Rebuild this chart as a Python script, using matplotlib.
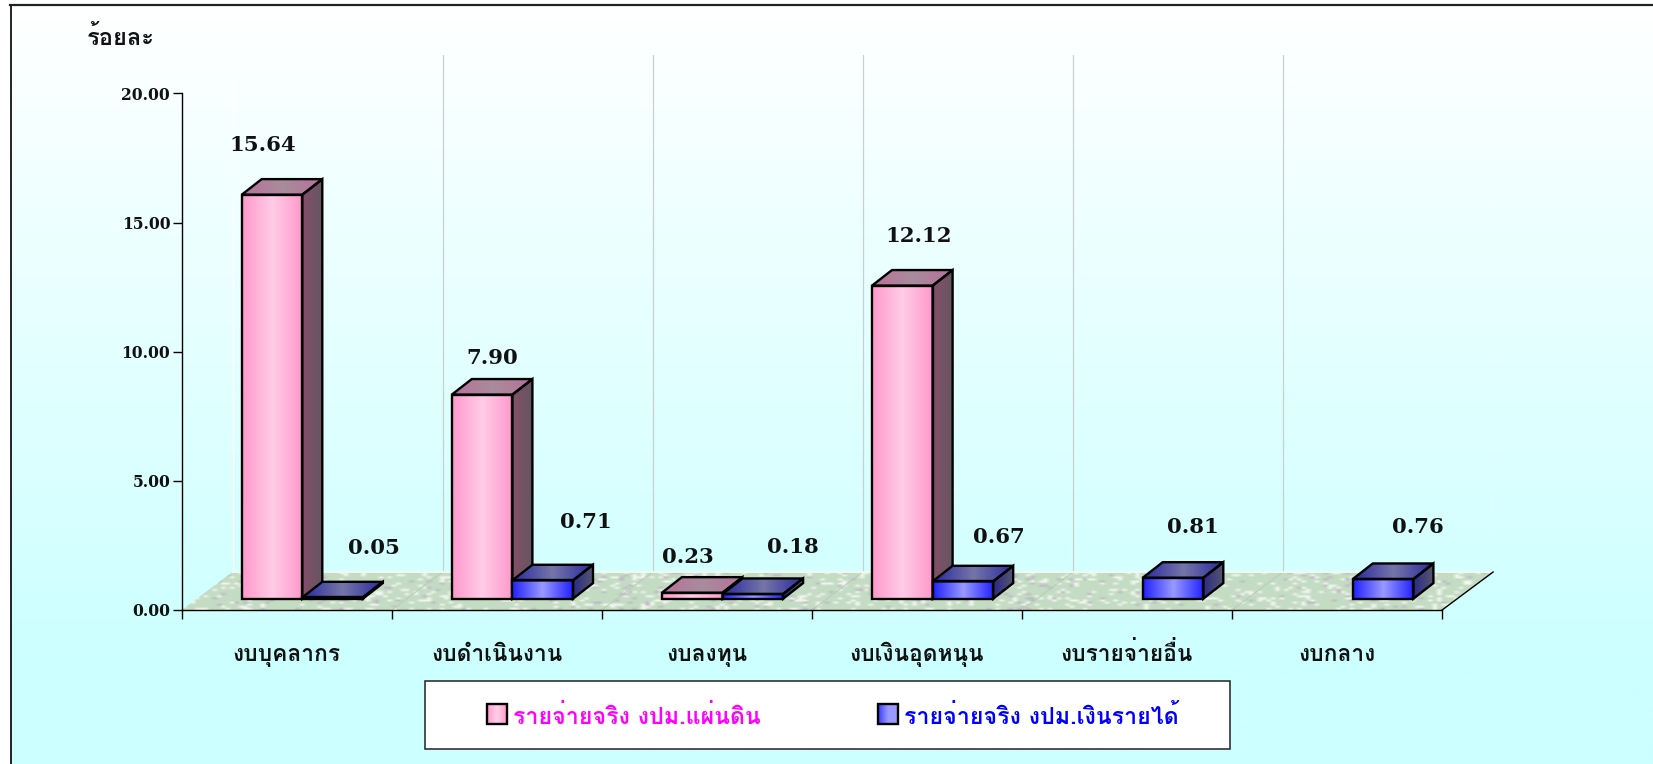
import numpy as np
import matplotlib
matplotlib.use('Agg')
import matplotlib.pyplot as plt
from matplotlib.colors import to_rgb
from matplotlib.patches import Polygon, Rectangle

THAI = ['Loma', 'IBM Plex Sans Thai Looped', 'DejaVu Sans']
NUM = ['DejaVu Serif']

categories = ['งบบุคลากร', 'งบดำเนินงาน', 'งบลงทุน', 'งบเงินอุดหนุน', 'งบรายจ่ายอื่น', 'งบกลาง']
state_budget = [15.64, 7.90, 0.23, 12.12, None, None]
income_budget = [0.05, 0.71, 0.18, 0.67, 0.81, 0.76]
y_ticks = [0, 5, 10, 15, 20]
y_labels = ['0.00', '5.00', '10.00', '15.00', '20.00']
y_title = 'ร้อยละ'
legend_state = 'รายจ่ายจริง งปม.แผ่นดิน'
legend_income = 'รายจ่ายจริง งปม.เงินรายได้'

# hand placed value labels in the original, offset from top of bar in px
state_offsets = [(-9, 50), (10, 37), (-4, 36), (16, 50), None, None]
income_offsets = [(41, 49), (43, 58), (40, 47), (36, 44), (20, 51), (35, 52)]

W, H = 1653, 764
CAT_PX = 210.1
UNIT_PX = 25.83
FLOOR_DX, FLOOR_DY = 51 / CAT_PX, 38 / UNIT_PX
BAR_DX, BAR_DY = 20 / CAT_PX, 15.6 / UNIT_PX
BAR_W = 60.6 / CAT_PX
BAR_START = 60.2 / CAT_PX
BAR_LIFT = 11.3 / UNIT_PX

PINK_FRONT = ['#ff99cc', '#ffcce6', '#ff99cc']
PINK_TOP = ['#b8709a', '#a98c9c', '#b8709a']
PINK_SIDE = ['#85506a', '#665560']
BLUE_FRONT = ['#2222ff', '#9999ff', '#2222ff']
BLUE_TOP = ['#2a2aa0', '#7575a8', '#2a2aa0']
BLUE_SIDE = ['#2a2a88', '#555570']


def ramp(cols, n=64):
    c = np.array([to_rgb(x) for x in cols])
    t = np.linspace(0, len(cols) - 1, n)
    return np.stack([np.interp(t, np.arange(len(cols)), c[:, k]) for k in range(3)], axis=1)


def grad_poly(ax, pts, cols, z, lw=1.7):
    xs = [p[0] for p in pts]
    ys = [p[1] for p in pts]
    poly = Polygon(pts, closed=True, fc='none', ec='black', lw=lw, zorder=z + 0.1, joinstyle='miter')
    ax.add_patch(poly)
    im = ax.imshow(ramp(cols)[None, :, :], extent=(min(xs), max(xs), min(ys), max(ys)),
                   aspect='auto', zorder=z, interpolation='bilinear', origin='lower')
    im.set_clip_path(poly)


def bar3d(ax, x, v, front, top, side, z):
    y0 = BAR_LIFT
    y1 = BAR_LIFT + v
    x1 = x + BAR_W
    grad_poly(ax, [(x, y0), (x1, y0), (x1, y1), (x, y1)], front, z)
    grad_poly(ax, [(x1, y0), (x1 + BAR_DX, y0 + BAR_DY), (x1 + BAR_DX, y1 + BAR_DY), (x1, y1)], side, z)
    grad_poly(ax, [(x, y1), (x1, y1), (x1 + BAR_DX, y1 + BAR_DY), (x + BAR_DX, y1 + BAR_DY)], top, z)


fig = plt.figure(figsize=(W / 100, H / 100), dpi=100, facecolor='white')

# page: gradient, frame and legend, in pixel coordinates
bg = fig.add_axes([0, 0, 1, 1], zorder=0)
bg.set_xlim(0, W)
bg.set_ylim(H, 0)
bg.autoscale(False)
bg.axis('off')
page = np.clip(np.linspace(0, 1, 400) / 0.86, 0, 1)
page_img = np.stack([1 - page * 0.2, np.ones(400), np.ones(400)], axis=1)[:, None, :]
bg.imshow(page_img, extent=(11, W, H, 6), aspect='auto', zorder=0)
bg.plot([10.5, 10.5], [5, H], color='black', lw=1.2, zorder=1)
bg.plot([10, W], [5, 5], color='#222222', lw=1.6, zorder=1)

bg.text(120.5, 45, y_title, family=THAI, weight='bold', fontsize=17, ha='center', va='baseline', color='#111111')

bg.add_patch(Rectangle((425, 680.5), 804.5, 68, fc='white', ec='#222222', lw=1.1, zorder=1))
for x0, cols, label, color in [(487, ['#ff99cc', '#ffd0e8', '#ff99cc'], legend_state, '#ff00ff'),
                               (878, ['#3a3aff', '#9999ff', '#9999ff'], legend_income, '#0000ff')]:
    grad_poly(bg, [(x0, 704), (x0 + 20, 704), (x0 + 20, 724), (x0, 724)], cols, 2)
    bg.text(x0 + 26, 724.5, label, family=THAI, weight='bold', fontsize=16.7, color=color, ha='left', va='baseline', zorder=3)

# chart axes: x in categories, y in percent, with room for the 3d depth
x_max = len(categories) + FLOOR_DX
y_max = 20 + FLOOR_DY
ax_w = x_max * CAT_PX
ax_h = y_max * UNIT_PX
ax = fig.add_axes([181.5 / W, (H - 610) / H, ax_w / W, ax_h / H], zorder=1)
ax.patch.set_visible(False)
ax.set_xlim(0, x_max)
ax.set_ylim(0, y_max)
ax.autoscale(False)

n_cat = len(categories)

# floor with a speckled texture
cells_x, cells_y = 300, 18
jj, ii = np.meshgrid(np.arange(cells_x), np.arange(cells_y))
noise = (np.sin(jj * 12.9898 + ii * 78.233) * 43758.5453) % 1
tex = np.empty((cells_y, cells_x, 3))
tex[:] = to_rgb('#c3dcc3')
tex[noise > 0.85] = to_rgb('#f2f6ee')
tex[noise < 0.05] = to_rgb('#c0b8c6')
floor = Polygon([(0, 0), (n_cat, 0), (x_max, FLOOR_DY), (FLOOR_DX, FLOOR_DY)], fc='none', ec='none', zorder=1)
ax.add_patch(floor)
floor_im = ax.imshow(tex, extent=(0, x_max, 0, FLOOR_DY), aspect='auto', zorder=1, interpolation='bilinear')
floor_im.set_clip_path(floor)

# back wall lines
for i in range(n_cat + 1):
    c = 'white' if i in (0, n_cat) else '#c8d0d0'
    ax.plot([i + FLOOR_DX, i + FLOOR_DX], [FLOOR_DY, y_max], color=c, lw=0.9, zorder=1.5)
    if 0 < i < n_cat:
        ax.plot([i, i + FLOOR_DX], [0, FLOOR_DY], color='#b9cbb9', lw=0.7, zorder=1.5)
ax.plot([FLOOR_DX, x_max], [FLOOR_DY, FLOOR_DY], color='#f2f8f2', lw=1.4, zorder=1.5)
ax.plot([n_cat, x_max], [0, FLOOR_DY], color='black', lw=1.0, zorder=2, clip_on=False)

# bars and value labels
for i in range(n_cat):
    x = i + BAR_START
    z = 3 + i
    if state_budget[i] is not None:
        bar3d(ax, x, state_budget[i], PINK_FRONT, PINK_TOP, PINK_SIDE, z)
    bar3d(ax, x + BAR_W, income_budget[i], BLUE_FRONT, BLUE_TOP, BLUE_SIDE, z + 0.3)

for i in range(n_cat):
    for vals, offs, start in [(state_budget, state_offsets, BAR_START),
                              (income_budget, income_offsets, BAR_START + BAR_W)]:
        if vals[i] is None:
            continue
        ax.annotate('%.2f' % vals[i], xy=(i + start + BAR_W / 2, BAR_LIFT + vals[i]),
                    xytext=offs[i], textcoords='offset pixels', ha='center', va='center',
                    family=NUM, weight='bold', fontsize=15.3, color='#111111', zorder=20)

for s in ['top', 'right']:
    ax.spines[s].set_visible(False)
ax.spines['left'].set_bounds(0, 20)
ax.spines['bottom'].set_bounds(0, n_cat)
ax.spines['left'].set_linewidth(1.0)
ax.spines['bottom'].set_linewidth(1.0)
ax.spines['left'].set_zorder(2)
ax.spines['bottom'].set_zorder(2)

ax.set_yticks(y_ticks, y_labels, family=NUM, weight='bold', fontsize=11.2, color='#111111')
ax.set_xticks(np.arange(n_cat + 1), [''] * (n_cat + 1))
ax.tick_params(axis='y', length=6.6, width=1.0, pad=1.5)
ax.tick_params(axis='x', which='major', length=6.6, width=1.0)

# category names share a baseline
for i, name in enumerate(categories):
    ax.annotate(name, xy=(i + 0.5, 0), xytext=(0, -51), textcoords='offset pixels', ha='center', va='baseline',
                family=THAI, weight='bold', fontsize=16.4, color='#111111', annotation_clip=False)

fig.savefig('out.png', dpi=100)
